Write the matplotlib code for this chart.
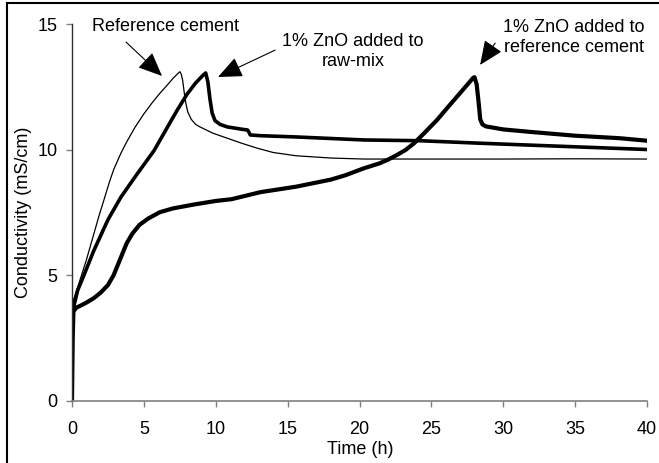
import matplotlib
matplotlib.use("Agg")
import matplotlib.pyplot as plt
from matplotlib.lines import Line2D

plt.rcParams['font.family'] = ['Liberation Sans', 'DejaVu Sans']
plt.rcParams['font.size'] = 13

# reference cement (thin line)
t_ref = [0, 0.02, 0.1, 0.5, 1.0, 1.5, 1.9, 2.2, 2.6, 2.9, 3.4, 3.8, 4.4, 5.0, 5.6,
         6.1, 6.6, 7.05, 7.5, 7.6, 7.7, 7.8, 7.9, 8.05, 8.3, 8.6, 8.9, 9.8, 10.8,
         11.8, 12.9, 14.0, 15.6, 18, 20.3, 26.3, 30, 35, 40]
c_ref = [0, 3.0, 4.0, 4.7, 5.6, 6.6, 7.4, 7.95, 8.7, 9.2, 9.85, 10.3, 10.9, 11.42,
         11.88, 12.23, 12.55, 12.85, 13.1, 13.0, 12.75, 12.3, 11.9, 11.5, 11.2, 11.0,
         10.9, 10.65, 10.45, 10.25, 10.05, 9.88, 9.75, 9.66, 9.62, 9.62, 9.62, 9.63,
         9.62]

# 1% ZnO added to raw-mix
t_raw = [0, 0.02, 0.1, 0.4, 0.8, 1.5, 2.5, 3.4, 4.5, 5.7, 6.5, 7.3, 8.0, 8.6, 9.1, 9.3,
         9.45, 9.6, 9.75, 9.95, 10.3, 10.8, 11.9, 12.2, 12.3, 12.4, 13.1, 15.6, 20.3,
         24.2, 28.4, 31.6, 35.8, 40]
c_raw = [0, 3.0, 3.7, 4.4, 4.95, 5.95, 7.2, 8.1, 9.0, 9.95, 10.75, 11.55, 12.2, 12.65,
         12.95, 13.05, 12.7, 12.0, 11.45, 11.15, 11.0, 10.9, 10.8, 10.78, 10.7, 10.58,
         10.55, 10.5, 10.38, 10.35, 10.25, 10.18, 10.09, 10.0]

# 1% ZnO added to reference cement
t_zno = [0, 0.05, 0.1, 0.3, 0.6, 1.0, 1.5, 2.0, 2.5, 2.9, 3.4, 3.8, 4.2, 4.7, 5.3,
         6.1, 7.0, 8.4, 10.0, 11.1, 13.1, 15.6, 18, 19, 20.3, 21.4, 22.0, 22.6, 23.2,
         23.8, 24.5, 25.4, 26.2, 27.0, 27.6, 27.9, 28.0, 28.15, 28.3, 28.4, 28.55,
         28.8, 30, 31.9, 35, 38.1, 40]
c_zno = [0, 2.5, 3.55, 3.7, 3.78, 3.9, 4.07, 4.3, 4.6, 5.0, 5.7, 6.26, 6.65, 7.0, 7.25,
         7.5, 7.65, 7.8, 7.95, 8.02, 8.3, 8.52, 8.8, 8.97, 9.25, 9.45, 9.6, 9.78, 9.98,
         10.25, 10.65, 11.18, 11.72, 12.25, 12.65, 12.85, 12.88, 12.6, 11.8, 11.2,
         11.0, 10.92, 10.8, 10.7, 10.55, 10.45, 10.35]

fig = plt.figure(figsize=(6.59, 4.63), dpi=100)
ax = fig.add_axes([72 / 659, 1 - 400.5 / 463, 575 / 659, 376.5 / 463])

ax.plot(t_ref, c_ref, color='black', lw=0.9, solid_joinstyle='round')
ax.plot(t_raw, c_raw, color='black', lw=2.6, solid_joinstyle='round')
ax.plot(t_zno, c_zno, color='black', lw=3.0, solid_joinstyle='round')

ax.set_xlim(0, 40)
ax.set_ylim(0, 15)
ax.set_xticks(range(0, 41, 5))
ax.set_yticks([0, 5, 10, 15])
ax.spines['top'].set_visible(False)
ax.spines['right'].set_visible(False)
ax.spines['bottom'].set_color('#808080')
ax.spines['left'].set_color('#303030')
ax.spines['bottom'].set_linewidth(1.2)
ax.spines['left'].set_linewidth(1.0)
ax.tick_params(direction='out', length=4.5, width=1, color='#808080', labelsize=13)
ax.tick_params(axis='x', pad=10)
ax.tick_params(axis='y', pad=6)

fig.text(23 / 659, 1 - 212 / 463, 'Conductivity (mS/cm)', rotation=90,
         ha='center', va='center', fontsize=13)
fig.text(360 / 659, 1 - 449 / 463, 'Time (h)', ha='center', va='center', fontsize=13)

arrow = dict(arrowstyle='-|>,head_length=1.5,head_width=0.65', color='black',
             lw=0.8, mutation_scale=10, shrinkA=0, shrinkB=0)

ax.text(6.47, 14.9, 'Reference cement', ha='center', va='center')
ax.annotate('', xy=(6.26, 12.93), xytext=(3.76, 14.28), arrowprops=arrow)

ax.text(19.55, 13.9, '1% ZnO added to\nraw-mix', ha='center', va='center',
        linespacing=1.2)
ax.annotate('', xy=(10.16, 12.89), xytext=(14.13, 13.96), arrowprops=arrow)

ax.text(34.93, 14.46, '1% ZnO added to\nreference cement', ha='center', va='center',
        linespacing=1.2)
ax.annotate('', xy=(28.39, 13.37), xytext=(29.44, 14.24), arrowprops=arrow)

# partial outer frame
fig.add_artist(Line2D([7 / 659, 7 / 659], [0, 1 - 3 / 463], transform=fig.transFigure,
                      color='black', lw=1.5))
fig.add_artist(Line2D([7 / 659, 1], [1 - 3 / 463, 1 - 3 / 463], transform=fig.transFigure,
                      color='black', lw=1.5))

fig.savefig('out.png', dpi=100)
